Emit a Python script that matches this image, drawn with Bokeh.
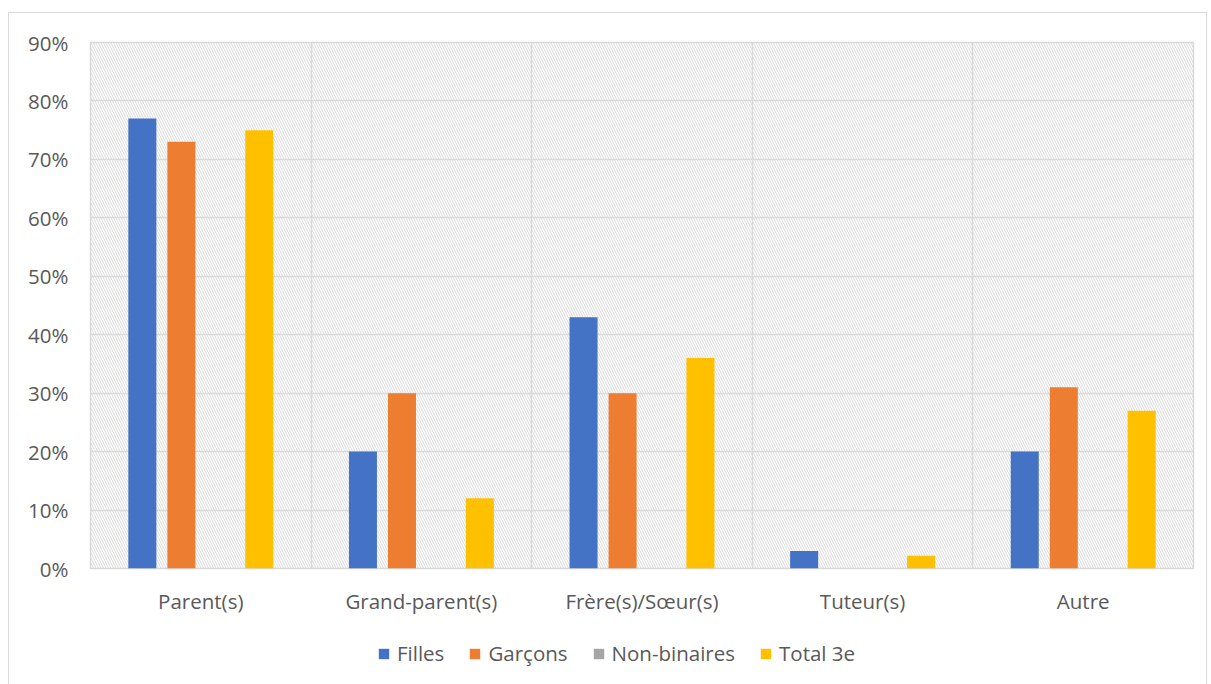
from bokeh.plotting import figure
from bokeh.layouts import column
from bokeh.models import ColumnDataSource, FixedTicker, NumeralTickFormatter, BoxAnnotation, Legend, LegendItem, Range1d
from bokeh.transform import dodge
from bokeh.embed import file_html
from bokeh.resources import INLINE

categories = ["Parent(s)", "Grand-parent(s)", "Frère(s)/Sœur(s)", "Tuteur(s)", "Autre"]
filles = [0.77, 0.20, 0.43, 0.03, 0.20]
garcons = [0.73, 0.30, 0.30, 0.0, 0.31]
non_binaires = [0.0, 0.0, 0.0, 0.0, 0.0]
total_3e = [0.75, 0.12, 0.36, 0.022, 0.27]
series_names = ["Filles", "Garçons", "Non-binaires", "Total 3e"]
colors = ["#4472c4", "#ed7d31", "#a5a5a5", "#ffc000"]
y_ticks = [0.0, 0.1, 0.2, 0.3, 0.4, 0.5, 0.6, 0.7, 0.8, 0.9]

xpos = [i + 0.5 for i in range(len(categories))]
src = ColumnDataSource(dict(x=xpos, f=filles, g=garcons, n=non_binaires, t=total_3e))

FONT = "Open Sans"
FS = "20.5px"
TXT = "#595959"
GRID = "#d9d9d9"

p = figure(frame_width=1103, frame_height=526, output_backend="svg", toolbar_location=None,
           x_range=Range1d(0, len(categories)), y_range=Range1d(0, 0.9),
           min_border_left=81, min_border_right=13, min_border_top=29, min_border_bottom=50)

hatch = BoxAnnotation(fill_alpha=0, line_alpha=0, hatch_pattern="\\", hatch_color="#d0d0d0",
                      hatch_scale=5, hatch_weight=0.8, level="image")
p.add_layout(hatch)

offsets = [-0.265, -0.088, 0.088, 0.265]
cols = ["f", "g", "n", "t"]
for c, off, col in zip(cols, offsets, colors):
    p.vbar(x=dodge("x", off, range=p.x_range), top=c, width=0.127, source=src,
           fill_color=col, line_color=None)

p.outline_line_color = GRID
p.outline_line_width = 1.5
p.background_fill_color = "white"
p.border_fill_color = "white"

p.xgrid.ticker = FixedTicker(ticks=list(range(len(categories) + 1)))
p.xgrid.grid_line_color = GRID
p.xgrid.grid_line_width = 1.5
p.ygrid.ticker = FixedTicker(ticks=y_ticks)
p.ygrid.grid_line_color = GRID
p.ygrid.grid_line_width = 1.5

p.xaxis.ticker = FixedTicker(ticks=xpos)
p.xaxis.major_label_overrides = {x: c for x, c in zip(xpos, categories)}
p.yaxis.ticker = FixedTicker(ticks=y_ticks)
p.yaxis.formatter = NumeralTickFormatter(format="0%")
for ax in (p.xaxis[0], p.yaxis[0]):
    ax.axis_line_color = None
    ax.major_tick_line_color = None
    ax.minor_tick_line_color = None
    ax.major_tick_out = 0
    ax.major_tick_in = 0
    ax.minor_tick_out = 0
    ax.major_label_text_font = FONT
    ax.major_label_text_font_size = FS
    ax.major_label_text_color = TXT
p.xaxis.major_label_standoff = 18
p.yaxis.major_label_standoff = 22

# legend strip
p2 = figure(width=1197, height=70, output_backend="svg", toolbar_location=None,
            x_range=Range1d(0, 1), y_range=Range1d(0, 1),
            min_border_left=0, min_border_right=0, min_border_top=0, min_border_bottom=0)
p2.axis.visible = False
p2.grid.visible = False
p2.outline_line_color = None
p2.border_fill_color = "white"
legend_src = ColumnDataSource(dict(x=[-1.0], top=[0.0]))
leg_renderers = [p2.vbar(x="x", top="top", width=0.1, source=legend_src, fill_color=col, line_color=None)
                 for col in colors]
legend = Legend(items=[LegendItem(label=n, renderers=[r]) for n, r in zip(series_names, leg_renderers)],
                orientation="horizontal", location=(287, 21),
                label_text_font=FONT, label_text_font_size=FS, label_text_color=TXT,
                glyph_width=13, glyph_height=13, label_height=13, spacing=24, label_standoff=7,
                border_line_color=None, background_fill_alpha=0, margin=0, padding=0)
p2.add_layout(legend)

layout = column(p, p2, spacing=0)
layout.styles = {"border": "1px solid #d9d9d9", "margin": "12px 0 0 8px"}

open("out.html", "w").write(file_html(layout, INLINE))
